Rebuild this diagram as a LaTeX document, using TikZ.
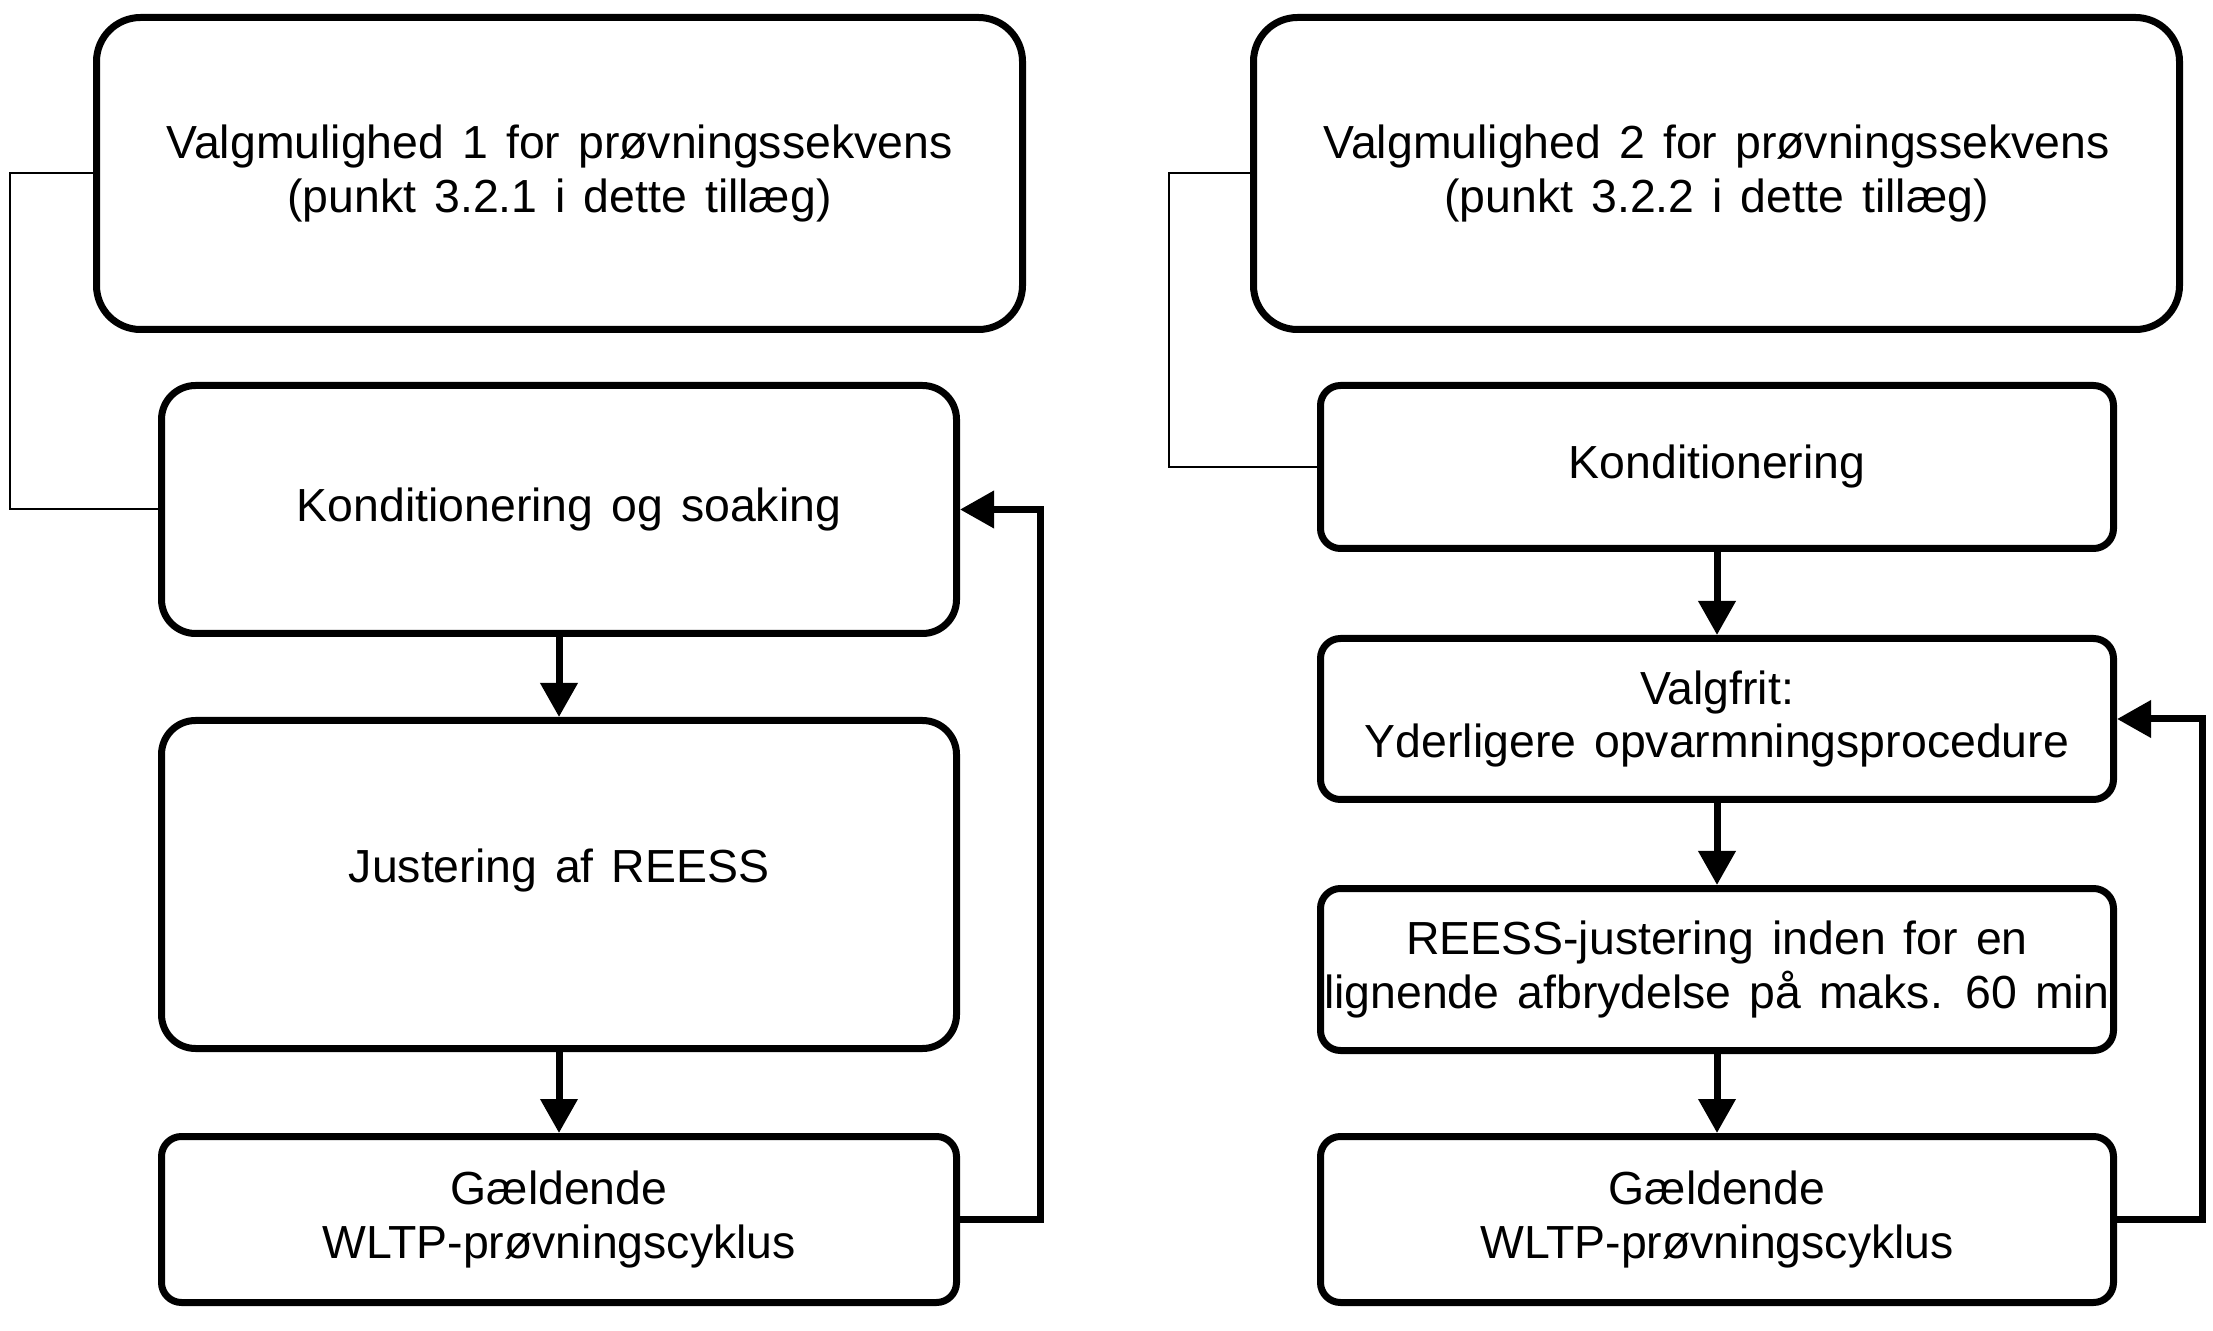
\documentclass[tikz,border=0pt]{standalone}
\usepackage{fontspec}
\setmainfont{Liberation Sans}[WordSpace=1.4]
\usetikzlibrary{arrows.meta}
\begin{document}
\begin{tikzpicture}[x=0.5pt,y=-0.5pt,
  box/.style={draw=black, line width=3.5pt, align=center, inner sep=1pt,
    font=\fontsize{23.2}{26.8}\selectfont},
  bigbox/.style={box, rounded corners=22pt, minimum width=463pt, minimum height=156pt},
  colL/.style={box, rounded corners=17pt, minimum width=397.5pt},
  colR/.style={box, rounded corners=10pt, minimum width=396.5pt},
  flow/.style={line width=3.5pt, -{Triangle[length=17pt,width=18pt]}},
  link/.style={line width=1pt}]
\useasboundingbox (0,0) rectangle (2213,1331);
% left column
\node[bigbox] (A) at (559.5,173.5) {Valgmulighed 1 for prøvningssekvens\\(punkt 3.2.1 i dette tillæg)};
\node[colL, minimum height=124pt] (B) at (559,509.5) {\hspace*{10pt}Konditionering og soaking};
\node[colL, minimum height=164pt, text depth=19pt] (C) at (559,884.5) {Justering af REESS};
\node[colL, rounded corners=10pt, minimum height=83pt] (D) at (559,1219.5) {Gældende\\WLTP-prøvningscyklus};
% right column
\node[bigbox] (E) at (1716.5,173.5) {Valgmulighed 2 for prøvningssekvens\\(punkt 3.2.2 i dette tillæg)};
\node[colR, minimum height=81.5pt] (F) at (1717,467) {Konditionering};
\node[colR, minimum height=80.5pt] (G) at (1717,719) {Valgfrit:\\Yderligere opvarmningsprocedure};
\node[colR, minimum height=81pt] (H) at (1717,969.5) {REESS-justering inden for en\\lignende afbrydelse på maks. 60 min};
\node[colR, minimum height=83pt] (I) at (1717,1219.5) {Gældende\\WLTP-prøvningscyklus};
% guide coordinates
\coordinate (tl) at (10,0);
\coordinate (tr) at (1169,0);
\coordinate (fl) at (1040,0);
\coordinate (fr) at (2202,0);
% thin links
\draw[link] (A.west) -- (A.west -| tl) -- (B.west -| tl) -- (B.west);
\draw[link] (E.west) -- (E.west -| tr) -- (F.west -| tr) -- (F.west);
% flow arrows
\draw[flow] (B) -- (C);
\draw[flow] (C) -- (D);
\draw[flow] (F) -- (G);
\draw[flow] (G) -- (H);
\draw[flow] (H) -- (I);
% feedback loops
\draw[flow] (D.east) -- (D.east -| fl) -- (B.east -| fl) -- (B.east);
\draw[flow] (I.east) -- (I.east -| fr) -- (G.east -| fr) -- (G.east);
\end{tikzpicture}
\end{document}
